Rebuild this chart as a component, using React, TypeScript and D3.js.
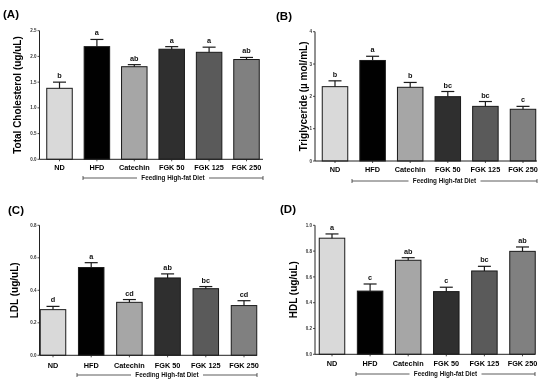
import * as d3 from "d3";

const categories = ["ND", "HFD", "Catechin", "FGK 50", "FGK 125", "FGK 250"];
const barColors = ["#d9d9d9", "#000000", "#a6a6a6", "#2f2f2f", "#5a5a5a", "#808080"];

const cholMean = [1.38, 2.19, 1.8, 2.14, 2.08, 1.94];
const cholErr = [0.12, 0.14, 0.04, 0.05, 0.1, 0.04];
const cholLetters = ["b", "a", "ab", "a", "a", "ab"];

const tgMean = [2.3, 3.11, 2.28, 1.99, 1.69, 1.6];
const tgErr = [0.18, 0.13, 0.15, 0.16, 0.15, 0.09];
const tgLetters = ["b", "a", "b", "bc", "bc", "c"];

const ldlMean = [0.281, 0.54, 0.326, 0.476, 0.41, 0.306];
const ldlErr = [0.02, 0.03, 0.017, 0.025, 0.013, 0.03];
const ldlLetters = ["d", "a", "cd", "ab", "bc", "cd"];

const hdlMean = [0.9, 0.49, 0.729, 0.486, 0.646, 0.798];
const hdlErr = [0.033, 0.055, 0.02, 0.034, 0.036, 0.034];
const hdlLetters = ["a", "c", "ab", "c", "bc", "ab"];

const font = "'Liberation Sans', Arial, sans-serif";

type PanelProps = {
  title: string;
  yLabel: string;
  mean: number[];
  err: number[];
  letters: string[];
  yMax: number;
  tickStep: number;
  fmt: string;
  axisX: number;
  xEnd: number;
  yTop: number;
  yBottom: number;
  c0: number;
  c5: number;
  labelY: number;
  bracketY: number;
  bracketX0: number;
  yLabelX: number;
  titleX: number;
  titleY: number;
};

function Panel(p: PanelProps) {
  const x = d3.scalePoint<string>().domain(categories).range([p.c0, p.c5]);
  const y = d3.scaleLinear().domain([0, p.yMax]).range([p.yBottom, p.yTop]);
  const ticks = d3.range(0, p.yMax + p.tickStep / 2, p.tickStep);
  const f = d3.format(p.fmt);
  const bw = 25.5;
  const cap = 6.5;
  const bracketMid = (p.bracketX0 + p.xEnd) / 2;
  const textHalf = 36;
  return (
    <g>
      <text x={p.titleX} y={p.titleY} fontSize={11.5} fontWeight="bold" fontFamily={font}>
        {p.title}
      </text>
      <text
        transform={`translate(${p.yLabelX},${(p.yTop + p.yBottom) / 2}) rotate(-90)`}
        textAnchor="middle"
        fontSize={10}
        fontWeight="bold"
        fontFamily={font}
      >
        {p.yLabel}
      </text>
      {categories.map((c, i) => {
        const cx = x(c)!;
        const top = y(p.mean[i]);
        const et = y(p.mean[i] + p.err[i]);
        return (
          <g key={c}>
            <rect
              x={cx - bw / 2}
              y={top}
              width={bw}
              height={p.yBottom - top}
              fill={barColors[i]}
              stroke="#1a1a1a"
              strokeWidth={1}
            />
            <line x1={cx} x2={cx} y1={top} y2={et} stroke="#1a1a1a" strokeWidth={1.2} />
            <line x1={cx - cap} x2={cx + cap} y1={et} y2={et} stroke="#1a1a1a" strokeWidth={1.2} />
            <text
              x={cx}
              y={et - 4}
              textAnchor="middle"
              fontSize={7.3}
              fontWeight="bold"
              fontFamily={font}
              fill="#111"
            >
              {p.letters[i]}
            </text>
            <text
              x={cx}
              y={p.labelY}
              textAnchor="middle"
              fontSize={7.3}
              fontWeight="bold"
              fontFamily={font}
            >
              {c}
            </text>
          </g>
        );
      })}
      {/* axes */}
      <line x1={p.axisX} x2={p.axisX} y1={p.yTop} y2={p.yBottom} stroke="#222" strokeWidth={1} />
      <line x1={p.axisX} x2={p.xEnd} y1={p.yBottom} y2={p.yBottom} stroke="#222" strokeWidth={1} />
      {categories.map((c) => (
        <line
          key={c}
          x1={x(c)!}
          x2={x(c)!}
          y1={p.yBottom}
          y2={p.yBottom + 2}
          stroke="#222"
          strokeWidth={0.8}
        />
      ))}
      {ticks.map((t) => (
        <g key={t}>
          <line
            x1={p.axisX - 2}
            x2={p.axisX}
            y1={y(t)}
            y2={y(t)}
            stroke="#222"
            strokeWidth={0.8}
          />
          <text
            x={p.axisX - 3}
            y={y(t) + 1.6}
            textAnchor="end"
            fontSize={4.5}
            fontWeight="bold"
            fontFamily={font}
            fill="#333"
          >
            {f(t)}
          </text>
        </g>
      ))}
      {/* bracket */}
      <line x1={p.bracketX0} x2={bracketMid - textHalf} y1={p.bracketY} y2={p.bracketY} stroke="#333" strokeWidth={0.8} />
      <line x1={bracketMid + textHalf} x2={p.xEnd} y1={p.bracketY} y2={p.bracketY} stroke="#333" strokeWidth={0.8} />
      <line x1={p.bracketX0} x2={p.bracketX0} y1={p.bracketY - 2} y2={p.bracketY + 2} stroke="#333" strokeWidth={0.8} />
      <line x1={p.xEnd} x2={p.xEnd} y1={p.bracketY - 2} y2={p.bracketY + 2} stroke="#333" strokeWidth={0.8} />
      <text
        x={bracketMid}
        y={p.bracketY + 2.2}
        textAnchor="middle"
        fontSize={6.3}
        fontWeight="bold"
        fontFamily={font}
        fill="#111"
      >
        Feeding High-fat Diet
      </text>
    </g>
  );
}

export default function App() {
  return (
    <svg
      width={550}
      height={384}
      style={{ position: "absolute", left: 0, top: 0, background: "#fff" }}
    >
      <rect width={550} height={384} fill="#fff" />
      <g opacity={0.999}>
        <Panel
          title="(A)"
          yLabel="Total Cholesterol (ug/uL)"
          mean={cholMean}
          err={cholErr}
          letters={cholLetters}
          yMax={2.5}
          tickStep={0.5}
          fmt=".1f"
          axisX={39.5}
          xEnd={263}
          yTop={30.7}
          yBottom={159.3}
          c0={59.5}
          c5={246.5}
          labelY={170}
          bracketY={178}
          bracketX0={83}
          yLabelX={20.5}
          titleX={3}
          titleY={18}
        />
        <Panel
          title="(B)"
          yLabel="Triglyceride (µ mol/mL)"
          mean={tgMean}
          err={tgErr}
          letters={tgLetters}
          yMax={4}
          tickStep={1}
          fmt=".0f"
          axisX={315}
          xEnd={537}
          yTop={31.7}
          yBottom={161}
          c0={335}
          c5={523}
          labelY={172}
          bracketY={181}
          bracketX0={352}
          yLabelX={306.5}
          titleX={276}
          titleY={20}
        />
        <Panel
          title="(C)"
          yLabel="LDL (ug/uL)"
          mean={ldlMean}
          err={ldlErr}
          letters={ldlLetters}
          yMax={0.8}
          tickStep={0.2}
          fmt=".1f"
          axisX={39.5}
          xEnd={257}
          yTop={225.3}
          yBottom={355.3}
          c0={53}
          c5={244}
          labelY={368}
          bracketY={375}
          bracketX0={77}
          yLabelX={18}
          titleX={8}
          titleY={214}
        />
        <Panel
          title="(D)"
          yLabel="HDL (ug/uL)"
          mean={hdlMean}
          err={hdlErr}
          letters={hdlLetters}
          yMax={1.0}
          tickStep={0.2}
          fmt=".1f"
          axisX={315}
          xEnd={535}
          yTop={225.3}
          yBottom={354.3}
          c0={332}
          c5={522.5}
          labelY={366}
          bracketY={374}
          bracketX0={356}
          yLabelX={297}
          titleX={280}
          titleY={213}
        />
      </g>
    </svg>
  );
}
